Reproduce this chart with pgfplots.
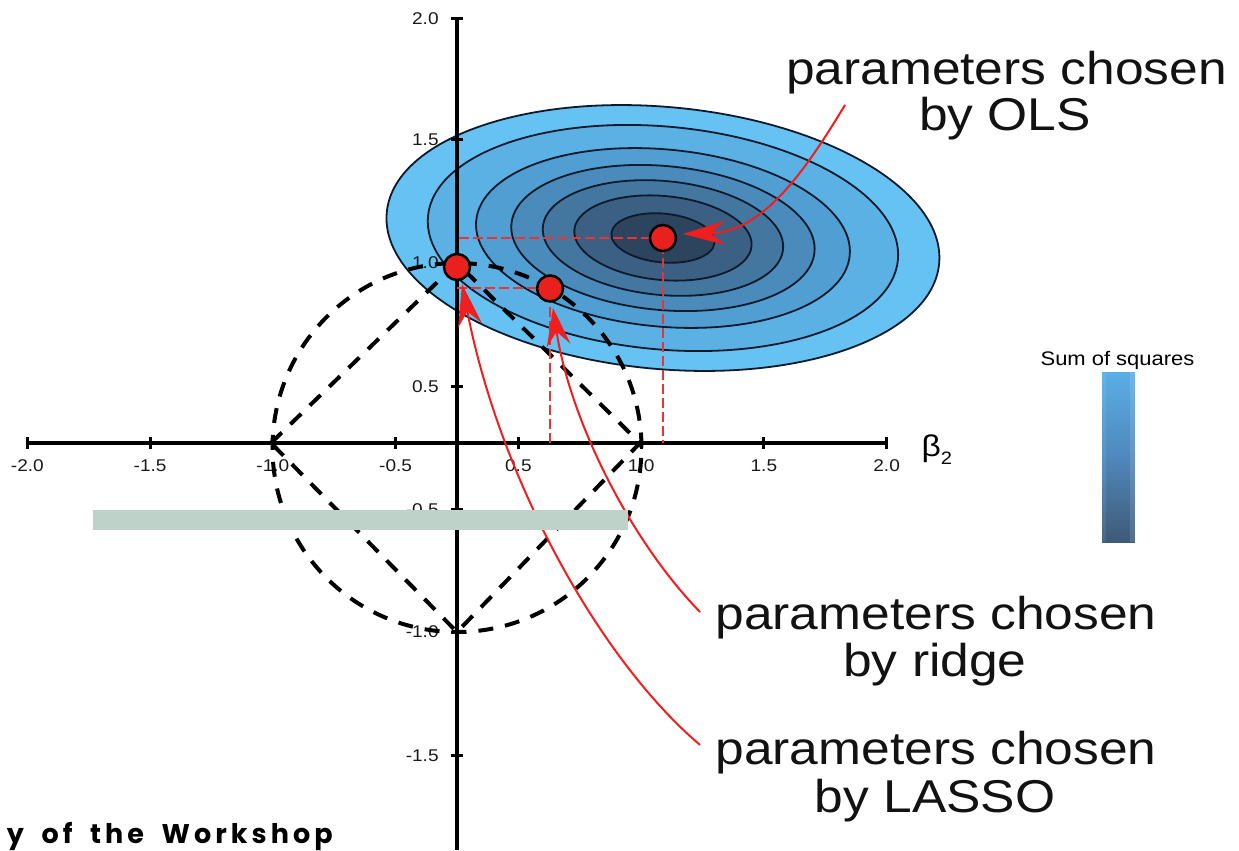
\documentclass[border=0pt]{standalone}
\usepackage{pgfplots}
\pgfplotsset{compat=1.18}
\usepackage{fontspec}
\setmainfont[FakeStretch=1.12]{Liberation Sans}
\newfontfamily\workshopfont[LetterSpace=15, WordSpace=1.8]{Poppins}
\usetikzlibrary{arrows.meta}

% contour band fills, outermost to innermost
\definecolor{band1}{HTML}{66C2F2}
\definecolor{band2}{HTML}{5BB1E4}
\definecolor{band3}{HTML}{509ED2}
\definecolor{band4}{HTML}{4A8BBC}
\definecolor{band5}{HTML}{4477A0}
\definecolor{band6}{HTML}{3B6083}
\definecolor{band7}{HTML}{2C445E}
\definecolor{contour}{HTML}{0E1A2A}
\definecolor{ptred}{HTML}{E8201E}
\definecolor{arrowred}{HTML}{F01E1E}
\definecolor{projred}{HTML}{E53535}
\definecolor{barcol}{HTML}{BED2CA}
\definecolor{cbA}{HTML}{72C6F4}
\definecolor{cbB}{HTML}{5AAEE6}
\definecolor{cbC}{HTML}{4F88BC}
\definecolor{cbD}{HTML}{3E5A78}
\definecolor{cbE}{HTML}{1C2E48}

% vertical colour scale, dark at the bottom and light at the top
\pgfdeclareverticalshading{sumsq}{100bp}{color(0bp)=(cbE); color(25bp)=(cbD); color(50bp)=(cbC); color(75bp)=(cbB); color(100bp)=(cbA)}

% estimates: OLS, ridge and LASSO solutions (axis units, 1 unit = one tick step)
\pgfplotstableread{
x y
1.678 1.670
0.758 1.259
0.000 1.434
}\estimates

\tikzset{contourband/.style={fill=#1, draw=contour, line width=0.9pt,
  rotate around={-5.3:(axis cs:1.678,1.670)}}}

\begin{document}
\begin{tikzpicture}
\begin{axis}[
  set layers,
  x=61.375pt, y=61.375pt,
  xmin=-3.5, xmax=3.5, ymin=-3.316, ymax=3.462,
  axis lines=middle,
  axis line style={line width=2pt, -},
  every inner x axis line/.append style={-},
  every inner y axis line/.append style={-},
  clip=false,
  xtick={-3.5,-2.5,-1.5,-0.5,0.5,1.5,2.5,3.5},
  xticklabels={-2.0,-1.5,-1.0,-0.5,0.5,1.0,1.5,2.0},
  ytick={-2.55,-1.54,-0.54,0.46,1.47,2.47,3.46},
  yticklabels={-1.5,-1.0,-0.5,0.5,1.0,1.5,2.0},
  tick style={line width=1.5pt, black},
  major tick length=6pt,
  tick align=center,
  ticklabel style={font=\fontsize{8.5}{9}\selectfont, text=black!90},
  xticklabel style={anchor=north, inner sep=0pt, yshift=-5pt},
  yticklabel style={anchor=east, inner sep=0pt, xshift=-6pt},
]

% sum-of-squares contours around the OLS estimate
\begin{pgfonlayer}{axis background}
\draw[contourband=band1] (axis cs:1.678,1.670) ellipse [x radius=138.7pt, y radius=65.5pt];
\draw[contourband=band2] (axis cs:1.678,1.670) ellipse [x radius=118.0pt, y radius=55.7pt];
\draw[contourband=band3] (axis cs:1.678,1.670) ellipse [x radius=93.8pt, y radius=44.3pt];
\draw[contourband=band4] (axis cs:1.678,1.670) ellipse [x radius=76.1pt, y radius=36.0pt];
\draw[contourband=band5] (axis cs:1.678,1.670) ellipse [x radius=60.3pt, y radius=28.5pt];
\draw[contourband=band6] (axis cs:1.678,1.670) ellipse [x radius=44.5pt, y radius=21.0pt];
\draw[contourband=band7] (axis cs:1.678,1.670) ellipse [x radius=25.9pt, y radius=12.2pt];
\end{pgfonlayer}

% ridge (circle) and LASSO (diamond) constraint regions
\draw[black, line width=2pt, dash pattern=on 7.5pt off 6pt] (axis cs:0,-0.037) circle [radius=1.503];
\addplot[black, line width=2pt, dash pattern=on 7.5pt off 6pt, no marks, sharp plot]
  coordinates {(-1.515,0) (0,1.466) (1.491,0) (0,-1.540) (-1.515,0)};

% projections of the estimates onto the axes
\addplot[projred, line width=1pt, dash pattern=on 5pt off 2pt, no marks]
  coordinates {(0.02,1.670) (1.678,1.670) (1.678,0)};
\addplot[projred, line width=1pt, dash pattern=on 5pt off 2pt, no marks]
  coordinates {(0,1.259) (0.758,1.259) (0.758,0)};

% estimates
\addplot[only marks, mark=*, mark size=6.5pt,
  mark options={fill=ptred, draw=black, line width=1.25pt}] table {\estimates};

% annotation arrows
\draw[arrowred, line width=1pt, -{Stealth[length=21pt, width=12pt, inset=7pt]}]
  (axis cs:3.161,2.754) .. controls (axis cs:2.794,2.143) and (axis cs:2.468,1.719) .. (axis cs:1.841,1.703);
\draw[arrowred, line width=1pt, -{Stealth[length=19pt, width=12pt, inset=7pt]}]
  (axis cs:1.980,-1.377) .. controls (axis cs:1.409,-0.790) and (axis cs:0.921,0.187) .. (axis cs:0.782,1.100);
\draw[arrowred, line width=1pt, -{Stealth[length=21pt, width=12pt, inset=7pt]}]
  (axis cs:1.980,-2.460) .. controls (axis cs:1.165,-1.768) and (axis cs:0.350,-0.301) .. (axis cs:0.041,1.295);

% annotation texts
\begin{scope}[every node/.style={font=\fontsize{23}{23}\selectfont, text=black!93, inner sep=0pt}]
\node[anchor=base] at (axis cs:4.477,2.917) {parameters chosen};
\node[anchor=base] at (axis cs:4.465,2.542) {by OLS};
\node[anchor=base] at (axis cs:3.902,-1.523) {parameters chosen};
\node[anchor=base] at (axis cs:3.894,-1.906) {by ridge};
\node[anchor=base] at (axis cs:3.902,-2.623) {parameters chosen};
\node[anchor=base] at (axis cs:3.894,-3.014) {by LASSO};
\end{scope}

% axis name
\node[anchor=base, inner sep=0pt, font=\fontsize{15}{15}\selectfont] at (axis cs:3.91,-0.114)
  {β\raisebox{-4pt}{\fontsize{9}{9}\selectfont 2}};

% colour scale
\node[anchor=base, inner sep=0pt, font=\fontsize{9.8}{10}\selectfont] at (axis cs:5.381,0.635) {Sum of squares};
\shade[shading=sumsq] (axis cs:5.255,0.578) rectangle (axis cs:5.523,-0.807);
\fill[white, opacity=0.12] (axis cs:5.480,0.578) rectangle (axis cs:5.523,-0.807);
\fill[white, opacity=0.08] (axis cs:5.255,0.578) rectangle (axis cs:5.290,-0.807);

% overlay band and footer
\fill[barcol] (axis cs:-2.965,-0.546) rectangle (axis cs:1.393,-0.709);
\node[anchor=base east, inner sep=0pt, font=\workshopfont\bfseries\fontsize{13.5}{14}\selectfont]
  at (axis cs:-1.010,-3.259) {y of the Workshop};

\coordinate (sw) at (axis cs:-3.723,-3.316);
\coordinate (ne) at (axis cs:6.371,3.609);
\end{axis}
\pgfresetboundingbox
\path[use as bounding box] (sw) rectangle (ne);
\end{tikzpicture}
\end{document}
